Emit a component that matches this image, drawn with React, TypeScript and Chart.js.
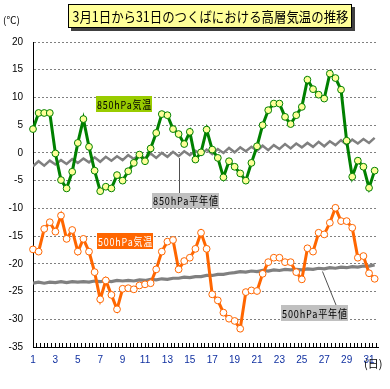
import React, { useEffect, useRef } from "react";
import { Chart, registerables } from "chart.js";

Chart.register(...registerables);

const TITLE = "3月1日から31日のつくばにおける高層気温の推移";

// 12-hourly values (09 and 21 JST), starting 1 March 09h
const t850 = [
  4.3, 7.2, 7.2, 7.2, -0.1, -4.9, -6.4, -3.4, 1.8, 6.1,
  1.1, -3.2, -6.9, -6.1, -6.4, -4.0, -5.0, -3.3, -1.8, -0.3,
  -1.5, 0.8, 3.6, 7.0, 6.8, 4.3, 3.4, 1.6, 3.8, -1.2,
  0.1, 4.2, 0.6, -0.9, -4.4, -1.5, -2.5, -3.7, -5.0, -1.8,
  1.2, 5.0, 7.7, 8.9, 8.9, 6.5, 5.2, 6.8, 8.3, 13.2,
  11.5, 10.5, 9.8, 14.3, 13.5, 11.4, 2.2, -4.3, -1.4, -2.5,
  -6.3, -3.2,
];

const t500 = [
  -17.4, -17.8, -13.7, -12.5, -14.2, -11.3, -15.5, -13.9, -17.8, -15.5,
  -17.8, -21.5, -26.4, -23.0, -25.6, -28.2, -24.5, -24.4, -24.6, -23.9,
  -23.7, -23.5, -21.0, -17.8, -16.0, -15.7, -21.0, -19.5, -18.9, -17.3,
  -14.4, -17.3, -25.5, -26.6, -28.8, -29.9, -30.3, -31.7, -25.1, -24.8,
  -24.9, -21.8, -19.7, -18.9, -18.9, -19.7, -19.7, -21.5, -22.8, -17.2,
  -17.8, -14.4, -14.7, -12.6, -9.9, -12.3, -12.3, -13.5, -18.9, -18.6,
  -21.7, -22.7,
];

const n850 = [
  -2.4, -1.5, -2.3, -1.4, -2.1, -1.3, -2.0, -1.1, -1.8, -1.0,
  -1.7, -0.8, -1.6, -0.7, -1.4, -0.6, -1.3, -0.4, -1.1, -0.3,
  -1.0, -0.1, -0.9, 0.0, -0.7, 0.2, -0.6, 0.3, -0.4, 0.4,
  -0.3, 0.6, -0.2, 0.7, 0.0, 0.9, 0.1, 1.0, 0.3, 1.1,
  0.4, 1.3, 0.5, 1.4, 0.7, 1.6, 0.8, 1.7, 1.0, 1.8,
  1.1, 2.0, 1.2, 2.1, 1.4, 2.3, 1.5, 2.4, 1.7, 2.5,
  1.8, 2.7,
];

const n500 = [
  -23.5, -23.3, -23.5, -23.3, -23.4, -23.2, -23.4, -23.2, -23.3, -23.2,
  -23.3, -23.1, -23.2, -23.1, -23.2, -23.0, -23.1, -23.0, -23.1, -22.9,
  -23.0, -22.8, -22.9, -22.7, -22.8, -22.6, -22.6, -22.4, -22.5, -22.3,
  -22.3, -22.1, -22.1, -21.9, -21.9, -21.7, -21.6, -21.4, -21.5, -21.3,
  -21.4, -21.2, -21.3, -21.1, -21.2, -21.0, -21.1, -21.0, -21.1, -20.9,
  -21.0, -20.8, -20.9, -20.7, -20.8, -20.6, -20.7, -20.5, -20.6, -20.4,
  -20.4, -20.2,
];

const Y_MIN = -35;
const Y_MAX = 20;
const Y_STEP = 5;
const X_MIN = 1;
const X_MAX = 31.8;
const TICKS_PER_DAY = 3;

const toPoints = (arr: number[]) => arr.map((v, i) => ({ x: X_MIN + i * 0.5, y: v }));

const JP = "'Noto Sans CJK JP', 'Noto Sans', sans-serif";

function labelBox(ctx: CanvasRenderingContext2D, text: string, x: number, y: number, w: number, h: number, bg: string, fg: string) {
  ctx.fillStyle = bg;
  ctx.fillRect(x, y, w, h);
  ctx.fillStyle = fg;
  ctx.font = `11px ${JP}`;
  ctx.textAlign = "center";
  ctx.textBaseline = "middle";
  (ctx as any).letterSpacing = "1px";
  ctx.fillText(text, x + w / 2 + 0.5, y + h / 2 + 0.5, w - 1);
  (ctx as any).letterSpacing = "0px";
}

const overlay = {
  id: "overlay",
  afterDraw(chart: any) {
    const ctx: CanvasRenderingContext2D = chart.ctx;
    ctx.save();
    // Title box with shadow
    ctx.fillStyle = "#404040";
    ctx.fillRect(71, 7, 284, 24);
    ctx.fillStyle = "#FFFF99";
    ctx.fillRect(68, 4, 284, 24);
    ctx.strokeStyle = "#000";
    ctx.lineWidth = 1;
    ctx.strokeRect(68.5, 4.5, 283, 23);
    ctx.fillStyle = "#000";
    ctx.font = `14px ${JP}`;
    ctx.textAlign = "center";
    ctx.textBaseline = "middle";
    ctx.fillText(TITLE, 210.5, 16.5, 276);

    // units
    ctx.font = `10px ${JP}`;
    ctx.textAlign = "left";
    ctx.fillText("(℃)", 3, 20.5);
    ctx.font = `11px ${JP}`;
    ctx.fillText("(日)", 364, 364);

    // leader lines
    ctx.strokeStyle = "#505050";
    ctx.lineWidth = 1;
    ctx.beginPath();
    ctx.moveTo(179.5, 158);
    ctx.lineTo(179.5, 193);
    ctx.moveTo(322.5, 271.5);
    ctx.lineTo(336, 305);
    ctx.stroke();

    labelBox(ctx, "850hPa気温", 96, 96, 56, 16, "#99CC00", "#000");
    labelBox(ctx, "500hPa気温", 97, 233, 56, 16, "#FF6600", "#fff");
    labelBox(ctx, "850hPa平年値", 152, 193, 67, 15, "#C0C0C0", "#000");
    labelBox(ctx, "500hPa平年値", 281, 305, 67, 16, "#C0C0C0", "#000");
    ctx.restore();
  },
};

export default function App() {
  const ref = useRef<HTMLCanvasElement | null>(null);
  useEffect(() => {
    document.body.style.margin = "0";
    const canvas = ref.current!;
    const chart = new Chart(canvas, {
      type: "line",
      data: {
        datasets: [
          {
            data: toPoints(t850),
            borderColor: "#008000",
            borderWidth: 3,
            backgroundColor: "#FFFF99",
            pointBackgroundColor: "#FFFF99",
            pointBorderColor: "#008000",
            pointBorderWidth: 1,
            pointRadius: 3.4,
            tension: 0,
            clip: false,
          },
          {
            data: toPoints(t500),
            borderColor: "#FF6600",
            borderWidth: 3,
            backgroundColor: "#FFFFFF",
            pointBackgroundColor: "#FFFFFF",
            pointBorderColor: "#FF6600",
            pointBorderWidth: 1,
            pointRadius: 3.4,
            tension: 0,
            clip: false,
          },
          {
            data: toPoints(n850),
            borderColor: "#808080",
            borderWidth: 2.5,
            pointRadius: 0,
            tension: 0,
          },
          {
            data: toPoints(n500),
            borderColor: "#808080",
            borderWidth: 3.2,
            pointRadius: 0,
            tension: 0,
          },
        ],
      },
      options: {
        responsive: false,
        animation: false,
        events: [],
        layout: { padding: { top: 42, right: 12, left: 0, bottom: 0 } },
        plugins: {
          legend: { display: false },
          tooltip: { enabled: false },
        },
        scales: {
          x: {
            type: "linear",
            min: X_MIN,
            max: X_MAX,
            afterBuildTicks: (scale: any) => {
              const ticks = [];
              const n = Math.floor((X_MAX - X_MIN) * TICKS_PER_DAY + 1e-6);
              for (let k = 0; k <= n; k++) ticks.push({ value: X_MIN + k / TICKS_PER_DAY });
              scale.ticks = ticks;
            },
            afterFit: (scale: any) => {
              scale.height = 42;
            },
            grid: {
              drawOnChartArea: false,
              drawTicks: true,
              tickLength: -4,
              color: "#000",
              lineWidth: 1,
            },
            border: { color: "#000", width: 1 },
            ticks: {
              autoSkip: false,
              maxRotation: 0,
              padding: 11,
              color: "#1030a0",
              font: { family: "'Liberation Sans', Arial, sans-serif", size: 10 },
              callback: (value: any, index: number) =>
                index % (2 * TICKS_PER_DAY) === 0 ? String(Math.round(Number(value))) : "",
            },
          },
          y: {
            min: Y_MIN,
            max: Y_MAX,
            afterFit: (scale: any) => {
              scale.width = 33;
            },
            grid: {
              drawTicks: false,
              color: "#808080",
              lineWidth: 1,
            },
            border: { color: "#000", width: 1, dash: [2, 2] },
            ticks: {
              stepSize: Y_STEP,
              padding: 10,
              color: "#000",
              font: { family: "'Liberation Sans', Arial, sans-serif", size: 10 },
            },
          },
        },
      },
      plugins: [overlay],
    } as any);
    return () => chart.destroy();
  }, []);
  return (
    <div style={{ width: 390, height: 389 }}>
      <canvas ref={ref} width={390} height={389} style={{ display: "block", width: 390, height: 389 }} />
    </div>
  );
}
